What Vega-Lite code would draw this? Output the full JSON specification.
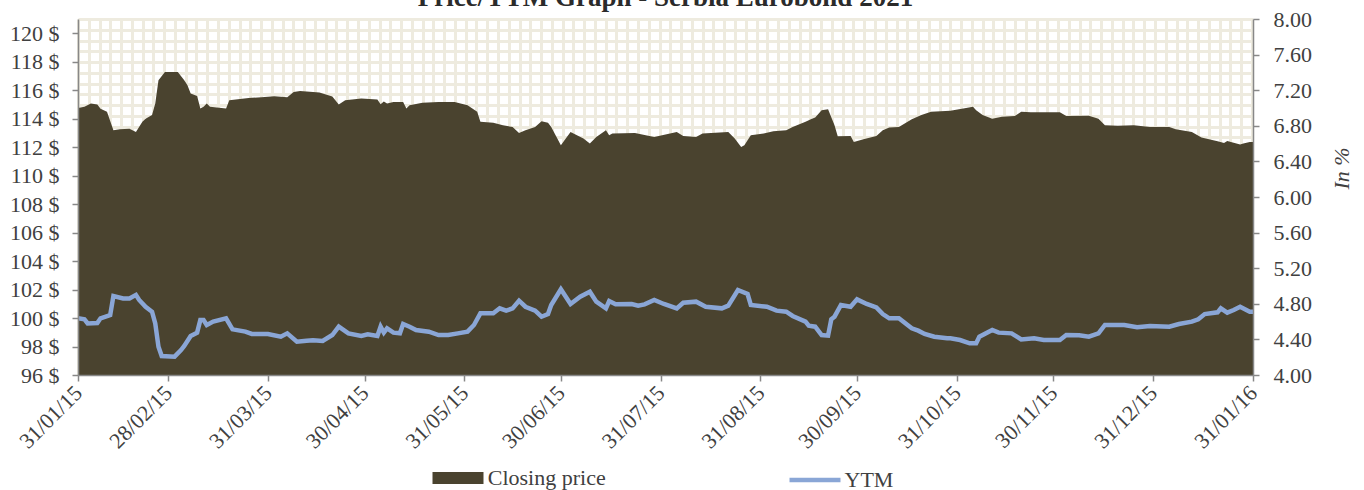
{
  "$schema": "https://vega.github.io/schema/vega-lite/v6.json",
  "autosize": "none",
  "width": 1175,
  "height": 356,
  "padding": {"left": 78, "top": 19, "right": 111, "bottom": 115},
  "background": "white",
  "title": {"text": "Price/YTM Graph - Serbia Eurobond 2021", "font": "Liberation Serif", "fontSize": 27, "fontWeight": "bold", "color": "#2b2b2b", "anchor": "middle", "dx": 0, "dy": 25, "offset": 0, "baseline": "alphabetic"},
  "config": {
    "view": {"stroke": null},
    "axis": {"labelFont": "Liberation Serif", "labelFontSize": 22, "labelColor": "#404040", "domainColor": "#888888", "tickColor": "#888888", "tickSize": 6, "domainWidth": 1.5, "tickWidth": 1.5, "titleFont": "Liberation Serif"},
    "legend": {"labelFont": "Liberation Serif", "labelFontSize": 22, "labelColor": "#404040", "padding": 0}
  },
  "datasets": {
    "price": [
      {"date":"2015-01-31","price":114.75},{"date":"2015-02-02","price":114.83},{"date":"2015-02-04","price":115.07},{"date":"2015-02-06","price":115.0},{"date":"2015-02-07","price":114.7},{"date":"2015-02-09","price":114.48},{"date":"2015-02-11","price":113.19},{"date":"2015-02-13","price":113.26},{"date":"2015-02-16","price":113.3},{"date":"2015-02-18","price":113.07},{"date":"2015-02-20","price":113.78},{"date":"2015-02-21","price":114.0},{"date":"2015-02-23","price":114.25},{"date":"2015-02-24","price":115.07},{"date":"2015-02-25","price":116.7},{"date":"2015-02-27","price":117.28},{"date":"2015-03-03","price":117.28},{"date":"2015-03-05","price":116.7},{"date":"2015-03-06","price":116.35},{"date":"2015-03-07","price":115.77},{"date":"2015-03-09","price":115.6},{"date":"2015-03-10","price":114.71},{"date":"2015-03-11","price":114.83},{"date":"2015-03-12","price":115.07},{"date":"2015-03-13","price":114.83},{"date":"2015-03-18","price":114.71},{"date":"2015-03-19","price":115.3},{"date":"2015-03-25","price":115.46},{"date":"2015-03-29","price":115.5},{"date":"2015-04-02","price":115.58},{"date":"2015-04-06","price":115.5},{"date":"2015-04-08","price":115.88},{"date":"2015-04-10","price":115.95},{"date":"2015-04-14","price":115.88},{"date":"2015-04-16","price":115.84},{"date":"2015-04-20","price":115.55},{"date":"2015-04-22","price":115.0},{"date":"2015-04-24","price":115.3},{"date":"2015-04-29","price":115.41},{"date":"2015-05-04","price":115.35},{"date":"2015-05-05","price":115.02},{"date":"2015-05-06","price":115.2},{"date":"2015-05-07","price":115.07},{"date":"2015-05-09","price":115.18},{"date":"2015-05-12","price":115.18},{"date":"2015-05-13","price":114.71},{"date":"2015-05-14","price":114.95},{"date":"2015-05-18","price":115.11},{"date":"2015-05-23","price":115.18},{"date":"2015-05-28","price":115.18},{"date":"2015-06-01","price":114.95},{"date":"2015-06-04","price":114.48},{"date":"2015-06-05","price":113.78},{"date":"2015-06-09","price":113.72},{"date":"2015-06-12","price":113.54},{"date":"2015-06-15","price":113.42},{"date":"2015-06-17","price":113.0},{"date":"2015-06-19","price":113.19},{"date":"2015-06-22","price":113.42},{"date":"2015-06-24","price":113.82},{"date":"2015-06-26","price":113.72},{"date":"2015-06-27","price":113.42},{"date":"2015-06-30","price":112.14},{"date":"2015-07-03","price":113.07},{"date":"2015-07-07","price":112.61},{"date":"2015-07-09","price":112.26},{"date":"2015-07-11","price":112.72},{"date":"2015-07-14","price":113.19},{"date":"2015-07-15","price":112.84},{"date":"2015-07-16","price":112.96},{"date":"2015-07-23","price":113.0},{"date":"2015-07-29","price":112.72},{"date":"2015-08-05","price":113.07},{"date":"2015-08-07","price":112.79},{"date":"2015-08-11","price":112.72},{"date":"2015-08-13","price":112.96},{"date":"2015-08-21","price":113.07},{"date":"2015-08-23","price":112.61},{"date":"2015-08-25","price":112.02},{"date":"2015-08-26","price":112.14},{"date":"2015-08-28","price":112.84},{"date":"2015-09-01","price":112.96},{"date":"2015-09-04","price":113.12},{"date":"2015-09-08","price":113.19},{"date":"2015-09-10","price":113.42},{"date":"2015-09-14","price":113.78},{"date":"2015-09-16","price":114.0},{"date":"2015-09-17","price":114.08},{"date":"2015-09-19","price":114.6},{"date":"2015-09-21","price":114.67},{"date":"2015-09-23","price":113.54},{"date":"2015-09-24","price":112.77},{"date":"2015-09-28","price":112.79},{"date":"2015-09-29","price":112.37},{"date":"2015-10-02","price":112.56},{"date":"2015-10-06","price":112.79},{"date":"2015-10-08","price":113.19},{"date":"2015-10-10","price":113.38},{"date":"2015-10-13","price":113.42},{"date":"2015-10-17","price":113.96},{"date":"2015-10-20","price":114.25},{"date":"2015-10-23","price":114.48},{"date":"2015-10-29","price":114.55},{"date":"2015-11-02","price":114.71},{"date":"2015-11-05","price":114.83},{"date":"2015-11-06","price":114.6},{"date":"2015-11-08","price":114.25},{"date":"2015-11-11","price":114.0},{"date":"2015-11-14","price":114.13},{"date":"2015-11-18","price":114.18},{"date":"2015-11-20","price":114.48},{"date":"2015-11-23","price":114.46},{"date":"2015-12-02","price":114.46},{"date":"2015-12-04","price":114.18},{"date":"2015-12-11","price":114.2},{"date":"2015-12-14","price":114.0},{"date":"2015-12-16","price":113.54},{"date":"2015-12-20","price":113.5},{"date":"2015-12-25","price":113.54},{"date":"2015-12-30","price":113.42},{"date":"2016-01-05","price":113.42},{"date":"2016-01-07","price":113.26},{"date":"2016-01-12","price":113.07},{"date":"2016-01-15","price":112.67},{"date":"2016-01-20","price":112.42},{"date":"2016-01-22","price":112.3},{"date":"2016-01-23","price":112.44},{"date":"2016-01-27","price":112.19},{"date":"2016-01-28","price":112.26},{"date":"2016-01-30","price":112.37},{"date":"2016-01-31","price":112.37}
    ],
    "ytm": [
      {"date":"2015-01-31","ytm":4.637},{"date":"2015-02-02","ytm":4.626},{"date":"2015-02-03","ytm":4.58},{"date":"2015-02-06","ytm":4.585},{"date":"2015-02-07","ytm":4.637},{"date":"2015-02-10","ytm":4.674},{"date":"2015-02-11","ytm":4.888},{"date":"2015-02-14","ytm":4.86},{"date":"2015-02-16","ytm":4.86},{"date":"2015-02-18","ytm":4.9},{"date":"2015-02-19","ytm":4.843},{"date":"2015-02-21","ytm":4.767},{"date":"2015-02-23","ytm":4.711},{"date":"2015-02-24","ytm":4.58},{"date":"2015-02-25","ytm":4.318},{"date":"2015-02-26","ytm":4.213},{"date":"2015-03-02","ytm":4.206},{"date":"2015-03-04","ytm":4.28},{"date":"2015-03-05","ytm":4.326},{"date":"2015-03-07","ytm":4.438},{"date":"2015-03-09","ytm":4.476},{"date":"2015-03-10","ytm":4.618},{"date":"2015-03-11","ytm":4.618},{"date":"2015-03-12","ytm":4.562},{"date":"2015-03-14","ytm":4.6},{"date":"2015-03-18","ytm":4.637},{"date":"2015-03-20","ytm":4.513},{"date":"2015-03-24","ytm":4.487},{"date":"2015-03-26","ytm":4.461},{"date":"2015-03-31","ytm":4.461},{"date":"2015-04-04","ytm":4.43},{"date":"2015-04-06","ytm":4.468},{"date":"2015-04-09","ytm":4.374},{"date":"2015-04-12","ytm":4.385},{"date":"2015-04-14","ytm":4.39},{"date":"2015-04-17","ytm":4.382},{"date":"2015-04-20","ytm":4.449},{"date":"2015-04-22","ytm":4.543},{"date":"2015-04-25","ytm":4.468},{"date":"2015-04-29","ytm":4.438},{"date":"2015-05-01","ytm":4.457},{"date":"2015-05-04","ytm":4.438},{"date":"2015-05-05","ytm":4.543},{"date":"2015-05-06","ytm":4.476},{"date":"2015-05-07","ytm":4.524},{"date":"2015-05-09","ytm":4.476},{"date":"2015-05-11","ytm":4.468},{"date":"2015-05-12","ytm":4.573},{"date":"2015-05-14","ytm":4.543},{"date":"2015-05-16","ytm":4.506},{"date":"2015-05-20","ytm":4.487},{"date":"2015-05-23","ytm":4.449},{"date":"2015-05-26","ytm":4.449},{"date":"2015-05-29","ytm":4.468},{"date":"2015-06-01","ytm":4.487},{"date":"2015-06-03","ytm":4.562},{"date":"2015-06-05","ytm":4.693},{"date":"2015-06-09","ytm":4.693},{"date":"2015-06-11","ytm":4.749},{"date":"2015-06-13","ytm":4.723},{"date":"2015-06-15","ytm":4.749},{"date":"2015-06-17","ytm":4.835},{"date":"2015-06-19","ytm":4.767},{"date":"2015-06-22","ytm":4.723},{"date":"2015-06-24","ytm":4.655},{"date":"2015-06-26","ytm":4.685},{"date":"2015-06-27","ytm":4.787},{"date":"2015-06-30","ytm":4.963},{"date":"2015-07-03","ytm":4.798},{"date":"2015-07-06","ytm":4.88},{"date":"2015-07-09","ytm":4.936},{"date":"2015-07-11","ytm":4.824},{"date":"2015-07-14","ytm":4.749},{"date":"2015-07-15","ytm":4.831},{"date":"2015-07-17","ytm":4.794},{"date":"2015-07-22","ytm":4.798},{"date":"2015-07-24","ytm":4.779},{"date":"2015-07-26","ytm":4.794},{"date":"2015-07-29","ytm":4.843},{"date":"2015-08-01","ytm":4.798},{"date":"2015-08-05","ytm":4.749},{"date":"2015-08-07","ytm":4.812},{"date":"2015-08-11","ytm":4.824},{"date":"2015-08-14","ytm":4.767},{"date":"2015-08-19","ytm":4.749},{"date":"2015-08-21","ytm":4.779},{"date":"2015-08-24","ytm":4.955},{"date":"2015-08-27","ytm":4.91},{"date":"2015-08-28","ytm":4.787},{"date":"2015-09-02","ytm":4.767},{"date":"2015-09-05","ytm":4.723},{"date":"2015-09-08","ytm":4.711},{"date":"2015-09-10","ytm":4.663},{"date":"2015-09-14","ytm":4.599},{"date":"2015-09-15","ytm":4.554},{"date":"2015-09-17","ytm":4.543},{"date":"2015-09-19","ytm":4.449},{"date":"2015-09-21","ytm":4.442},{"date":"2015-09-22","ytm":4.626},{"date":"2015-09-23","ytm":4.655},{"date":"2015-09-25","ytm":4.787},{"date":"2015-09-28","ytm":4.767},{"date":"2015-09-30","ytm":4.85},{"date":"2015-10-03","ytm":4.798},{"date":"2015-10-06","ytm":4.76},{"date":"2015-10-08","ytm":4.685},{"date":"2015-10-10","ytm":4.637},{"date":"2015-10-13","ytm":4.637},{"date":"2015-10-17","ytm":4.524},{"date":"2015-10-19","ytm":4.498},{"date":"2015-10-21","ytm":4.461},{"date":"2015-10-24","ytm":4.43},{"date":"2015-10-28","ytm":4.412},{"date":"2015-10-29","ytm":4.412},{"date":"2015-11-01","ytm":4.393},{"date":"2015-11-04","ytm":4.356},{"date":"2015-11-06","ytm":4.356},{"date":"2015-11-07","ytm":4.43},{"date":"2015-11-11","ytm":4.506},{"date":"2015-11-13","ytm":4.476},{"date":"2015-11-17","ytm":4.468},{"date":"2015-11-20","ytm":4.4},{"date":"2015-11-24","ytm":4.412},{"date":"2015-11-27","ytm":4.393},{"date":"2015-12-02","ytm":4.393},{"date":"2015-12-04","ytm":4.449},{"date":"2015-12-08","ytm":4.446},{"date":"2015-12-11","ytm":4.43},{"date":"2015-12-14","ytm":4.468},{"date":"2015-12-16","ytm":4.562},{"date":"2015-12-22","ytm":4.562},{"date":"2015-12-26","ytm":4.536},{"date":"2015-12-30","ytm":4.551},{"date":"2016-01-05","ytm":4.543},{"date":"2016-01-08","ytm":4.573},{"date":"2016-01-12","ytm":4.599},{"date":"2016-01-14","ytm":4.626},{"date":"2016-01-16","ytm":4.685},{"date":"2016-01-20","ytm":4.704},{"date":"2016-01-21","ytm":4.749},{"date":"2016-01-23","ytm":4.7},{"date":"2016-01-25","ytm":4.73},{"date":"2016-01-27","ytm":4.767},{"date":"2016-01-30","ytm":4.711},{"date":"2016-01-31","ytm":4.711}
    ]
  },
  "layer": [
    {
      "data": {"values": [{}]},
      "mark": {"type": "point", "opacity": 0},
      "encoding": {
        "x": {"datum": 0, "type": "quantitative", "scale": {"domain": [0, 109.1], "nice": false, "zero": false},
          "axis": {"orient": "top", "grid": true, "gridColor": "#eeebdf", "gridWidth": 3, "labels": false, "ticks": false, "domain": false, "title": null, "values": [0,1,2,3,4,5,6,7,8,9,10,11,12,13,14,15,16,17,18,19,20,21,22,23,24,25,26,27,28,29,30,31,32,33,34,35,36,37,38,39,40,41,42,43,44,45,46,47,48,49,50,51,52,53,54,55,56,57,58,59,60,61,62,63,64,65,66,67,68,69,70,71,72,73,74,75,76,77,78,79,80,81,82,83,84,85,86,87,88,89,90,91,92,93,94,95,96,97,98,99,100,101,102,103,104,105,106,107,108,109]}},
        "y": {"datum": 0, "type": "quantitative", "scale": {"domain": [0, 33.05], "nice": false, "zero": false, "reverse": true},
          "axis": {"orient": "left", "grid": true, "gridColor": "#eeebdf", "gridWidth": 3, "labels": false, "ticks": false, "domain": false, "title": null, "values": [0,1,2,3,4,5,6,7,8,9,10,11,12,13,14,15,16,17,18,19,20,21,22,23,24,25,26,27,28,29,30,31,32,33]}}
      }
    },
    {
      "data": {"name": "price"},
      "mark": {"type": "area", "clip": true, "interpolate": "linear"},
      "encoding": {
        "x": {"field": "date", "type": "temporal",
          "scale": {"type": "utc", "domain": [{"year": 2015, "month": 1, "date": 31, "utc": true}, {"year": 2016, "month": 1, "date": 31, "utc": true}]},
          "axis": {"orient": "bottom", "title": null, "grid": false, "format": "%d/%m/%y", "labelAngle": -45, "labelAlign": "right", "labelBaseline": "middle", "labelPadding": 8, "zindex": 1,
            "values": [{"year":2015,"month":1,"date":31,"utc":true},{"year":2015,"month":2,"date":28,"utc":true},{"year":2015,"month":3,"date":31,"utc":true},{"year":2015,"month":4,"date":30,"utc":true},{"year":2015,"month":5,"date":31,"utc":true},{"year":2015,"month":6,"date":30,"utc":true},{"year":2015,"month":7,"date":31,"utc":true},{"year":2015,"month":8,"date":31,"utc":true},{"year":2015,"month":9,"date":30,"utc":true},{"year":2015,"month":10,"date":31,"utc":true},{"year":2015,"month":11,"date":30,"utc":true},{"year":2015,"month":12,"date":31,"utc":true},{"year":2016,"month":1,"date":31,"utc":true}]}},
        "y": {"field": "price", "type": "quantitative",
          "scale": {"domain": [96, 121], "nice": false, "zero": false},
          "axis": {"orient": "left", "title": null, "grid": false, "values": [96,98,100,102,104,106,108,110,112,114,116,118,120], "labelExpr": "datum.value + ' $'", "labelPadding": 13, "zindex": 1}},
        "fill": {"datum": "Closing price", "type": "nominal", "scale": {"range": ["#4a432f"]},
          "legend": {"title": null, "orient": "none", "legendX": 367, "legendY": 446, "symbolType": "M-2,-0.47H2V0.47H-2Z", "symbolSize": 650, "symbolStrokeWidth": 0, "labelOffset": 16.75}}
      }
    },
    {
      "data": {"name": "ytm"},
      "mark": {"type": "line", "clip": true, "strokeWidth": 4.5, "interpolate": "linear"},
      "encoding": {
        "x": {"field": "date", "type": "temporal",
          "scale": {"type": "utc", "domain": [{"year": 2015, "month": 1, "date": 31, "utc": true}, {"year": 2016, "month": 1, "date": 31, "utc": true}]},
          "axis": null},
        "y": {"field": "ytm", "type": "quantitative",
          "scale": {"domain": [4, 8], "nice": false, "zero": false},
          "axis": {"orient": "right", "grid": false, "values": [4, 4.4, 4.8, 5.2, 5.6, 6, 6.4, 6.8, 7.2, 7.6, 8], "format": ".2f", "labelPadding": 14, "zindex": 1,
            "title": "In %", "titleFontSize": 22, "titleFontStyle": "italic", "titleFontWeight": "normal", "titleColor": "#404040", "titleAngle": -90, "titleX": 88, "titleY": 149, "titleBaseline": "middle", "titleAlign": "center"}},
        "stroke": {"datum": "YTM", "type": "nominal", "scale": {"range": ["#8aa6d6"]},
          "legend": {"title": null, "orient": "none", "legendX": 722, "legendY": 446, "symbolType": "M-2,0H2", "symbolSize": 650, "symbolStrokeWidth": 4.5, "labelOffset": 14.5}}
      }
    }
  ],
  "resolve": {"scale": {"x": "independent", "y": "independent"}}
}
